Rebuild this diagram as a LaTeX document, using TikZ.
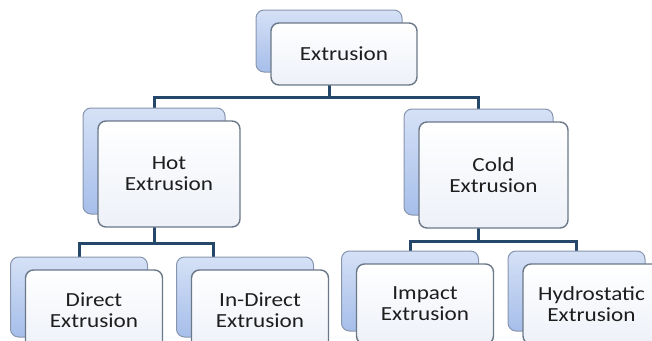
\documentclass[tikz,border=0pt]{standalone}
\usepackage{fontspec}
\setmainfont{Carlito}[FakeStretch=1.16]
\usetikzlibrary{backgrounds}

\definecolor{backtop}{HTML}{D5E1F6}
\definecolor{backbot}{HTML}{A6BEEA}
\definecolor{backedge}{HTML}{8796AE}
\definecolor{cardedge}{HTML}{6B7888}
\definecolor{cardbot}{HTML}{EDF1F8}
\definecolor{textgray}{HTML}{1E1E1E}
\definecolor{linkblue}{HTML}{25476A}

\begin{document}
\begin{tikzpicture}[x=1pt,y=-1pt,
	back/.style={draw=backedge, line width=1pt, rounded corners=8pt, top color=backtop, bottom color=backbot},
	card/.style={draw=cardedge, line width=1.4pt, rounded corners=8pt, top color=white, bottom color=cardbot, align=center, text=textgray, inner sep=0pt, font=\fontsize{20}{21}\selectfont},
	link/.style={draw=linkblue, line width=3pt}]
%	\draw [help lines] (0,0) grid[step=20] (652,340);
	\useasboundingbox (0,0) rectangle (652,340);
	\clip (0,0) rectangle (652,340);
	% top level
	\node [back, minimum width=146, minimum height=62] (extb) at (329,41) {};
	\node [card, minimum width=146, minimum height=62] (ext) at ([shift={(15,13)}]extb) {Extrusion};
	% second level
	\node [back, minimum width=142, minimum height=106] (hotb) at (154,161) {};
	\node [card, minimum width=142, minimum height=106] (hot) at ([shift={(15,13)}]hotb) {Hot\\Extrusion};
	\node [back, minimum width=149, minimum height=106] (coldb) at (478.5,162) {};
	\node [card, minimum width=149, minimum height=106] (cold) at ([shift={(15,13)}]coldb) {Cold\\Extrusion};
	% third level
	\node [back, minimum width=137, minimum height=80] (directb) at (79,297) {};
	\node [card, minimum width=137, minimum height=80] (direct) at ([shift={(15,13)}]directb) {Direct\\Extrusion};
	\node [back, minimum width=137, minimum height=80] (indirectb) at (245,297) {};
	\node [card, minimum width=137, minimum height=80] (indirect) at ([shift={(15,13)}]indirectb) {In-Direct\\Extrusion};
	\node [back, minimum width=137, minimum height=80] (impactb) at (410,291) {};
	\node [card, minimum width=137, minimum height=80] (impact) at ([shift={(15,13)}]impactb) {Impact\\Extrusion};
	\node [back, minimum width=137, minimum height=80] (hydrob) at (576.5,291) {};
	\node [card, minimum width=137, minimum height=80] (hydro) at ([shift={(15,13)}]hydrob) {Hydrostatic\\Extrusion};
	% connectors
	\begin{scope}[on background layer]
		\draw [link] (extb.south) -- ++(0,25) coordinate (bus1);
		\draw [link] (hotb.north) |- (bus1) -| (coldb.north);
		\draw [link] (hotb.south) -- ++(0,29) coordinate (bus2);
		\draw [link] (directb.north) |- (bus2) -| ([xshift=-32pt]indirectb.north);
		\draw [link] (coldb.south) -- ++(0,26) coordinate (bus3);
		\draw [link] (impactb.north) |- (bus3) -| (hydrob.north);
	\end{scope}
\end{tikzpicture}
\end{document}
